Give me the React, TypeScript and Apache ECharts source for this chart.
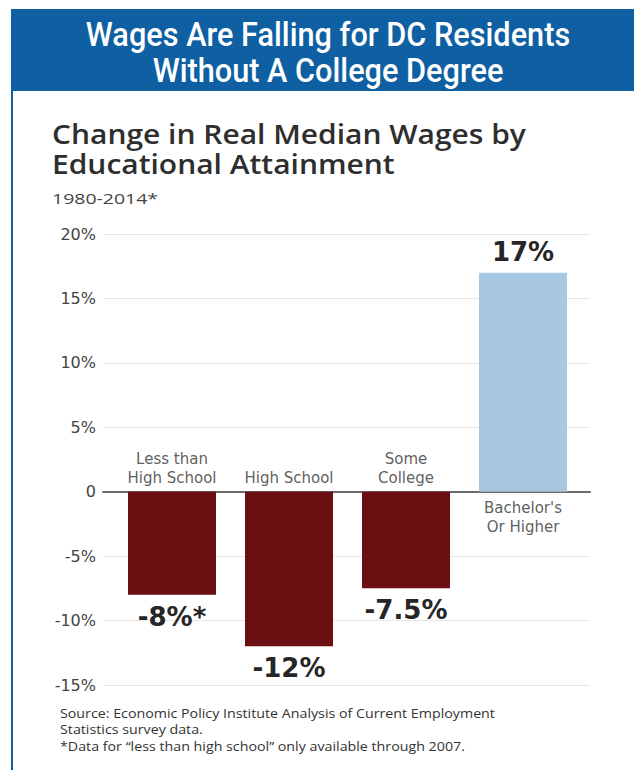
import React, { useEffect, useRef } from "react";
import * as echarts from "echarts";

const categories = ["Less than\nHigh School", "High School", "Some\nCollege", "Bachelor's\nOr Higher"];
const values = [-8, -12, -7.5, 17];
const valueLabels = ["-8%*", "-12%", "-7.5%", "17%"];
const yTicks = { min: -15, max: 20, interval: 5 };
const headerLines = ["Wages Are Falling for DC Residents", "Without A College Degree"];
const titleLines = ["Change in Real Median Wages by", "Educational Attainment"];
const subtitle = "1980-2014*";
const sourceLines = [
  "Source: Economic Policy Institute Analysis of Current Employment",
  "Statistics survey data.",
  "*Data for \u201cless than high school\u201d only available through 2007.",
];

const RED = "#6b0f12";
const BLUE = "#a8c7e1";
const HEADER = "#0f5fa3";
const FONT = "'Open Sans', 'Noto Sans', sans-serif";
const WIDE = "'DejaVu Sans', 'Open Sans', sans-serif";

export default function App() {
  const ref = useRef<HTMLDivElement>(null);
  useEffect(() => {
    if (!ref.current) return;
    const chart = echarts.init(ref.current, undefined, { renderer: "svg" });
    const option: any = {
      animation: false,
      backgroundColor: "#ffffff",
      grid: [
        { left: 103, right: 44, top: 234, bottom: 85 },
        { left: 113.5, right: 52.5, top: 234, bottom: 85 },
      ],
      xAxis: [
        {
          gridIndex: 0,
          type: "value",
          min: 0,
          max: 1,
          axisLine: { show: true, onZero: true, lineStyle: { color: "#6a6a6a", width: 2 } },
          axisTick: { show: false },
          axisLabel: { show: false },
          splitLine: { show: false },
        },
        {
          gridIndex: 1,
          type: "category",
          data: categories,
          axisLine: { show: false },
          axisTick: { show: false },
          axisLabel: { show: false },
        },
      ],
      yAxis: [
        {
          gridIndex: 0,
          type: "value",
          min: yTicks.min,
          max: yTicks.max,
          interval: yTicks.interval,
          axisLine: { show: false },
          axisTick: { show: false },
          axisLabel: {
            margin: 7,
            fontFamily: WIDE,
            fontSize: 16,
            color: "#444",
            formatter: (v: number) => (v === 0 ? "0" : v + "%"),
          },
          splitLine: { show: true, lineStyle: { color: "#e6e6e6", width: 1 } },
        },
        {
          gridIndex: 1,
          type: "value",
          min: yTicks.min,
          max: yTicks.max,
          interval: yTicks.interval,
          show: false,
          splitLine: { show: false },
        },
      ],
      series: [
        {
          type: "bar",
          xAxisIndex: 1,
          yAxisIndex: 1,
          barWidth: 88,
          data: values.map((v, i) => ({
            value: v,
            itemStyle: { color: v < 0 ? RED : BLUE },
            label: {
              show: true,
              position: v < 0 ? "bottom" : "top",
              distance: v < 0 ? 9 : 8,
              formatter: valueLabels[i],
              fontFamily: WIDE,
              fontWeight: 700,
              fontSize: 26,
              color: "#262626",
            },
          })),
        },
        {
          type: "scatter",
          xAxisIndex: 1,
          yAxisIndex: 1,
          symbolSize: 0,
          silent: true,
          data: categories.map((c, i) => ({
            value: [c, 0],
            label: {
              show: true,
              position: values[i] < 0 ? "top" : "bottom",
              distance: values[i] < 0 ? 4 : 7,
              formatter: c,
              fontFamily: WIDE,
              fontSize: 15,
              lineHeight: 19,
              color: "#333",
              align: "center",
            },
          })),
        },
      ],
      graphic: [
        { type: "rect", shape: { x: 11, y: 9, width: 623, height: 82 }, style: { fill: HEADER } },
        { type: "rect", shape: { x: 11, y: 9, width: 2, height: 761 }, style: { fill: HEADER } },
        ...headerLines.map((t, i) => ({
          type: "text",
          x: 328,
          y: 35 + i * 36,
          scaleX: 0.93,
          style: {
            text: t,
            fill: "#ffffff",
            font: "500 33px Roboto, 'Noto Sans', sans-serif",
            align: "center",
            verticalAlign: "middle",
          },
        })),
        ...titleLines.map((t, i) => ({
          type: "text",
          x: 52,
          y: 134 + i * 30,
          scaleX: 1.11,
          style: {
            text: t,
            fill: "#2e2e2e",
            font: `600 27px ${FONT}`,
            align: "left",
            verticalAlign: "middle",
          },
        })),
        {
          type: "text",
          x: 52,
          y: 198,
          scaleX: 1.3,
          style: { text: subtitle, fill: "#444", font: `15px ${FONT}`, align: "left", verticalAlign: "middle" },
        },
        ...sourceLines.map((t, i) => ({
          type: "text",
          x: 60,
          y: 713 + i * 16.5,
          scaleX: 1.14,
          style: { text: t, fill: "#333", font: `12.5px ${FONT}`, align: "left", verticalAlign: "middle" },
        })),
      ],
    };
    chart.setOption(option);
    return () => chart.dispose();
  }, []);
  return (
    <div
      ref={ref}
      style={{ position: "absolute", left: 0, top: 0, width: 634, height: 770 }}
    />
  );
}
